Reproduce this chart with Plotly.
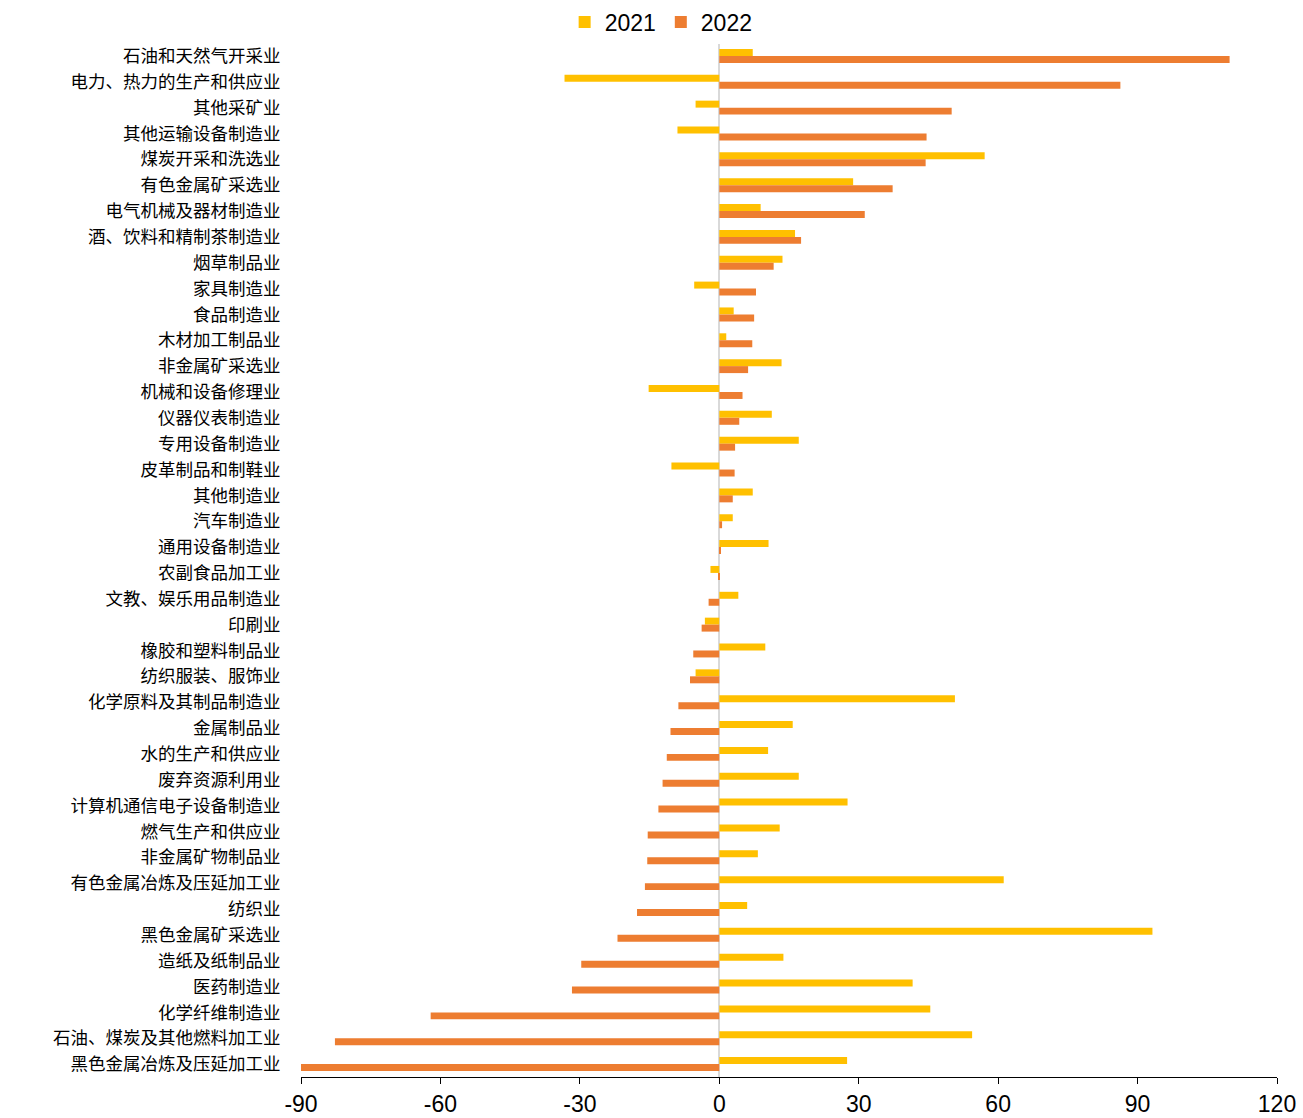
import plotly.graph_objects as go

# Industries, listed top to bottom
industries = [
    "石油和天然气开采业", "电力、热力的生产和供应业", "其他采矿业", "其他运输设备制造业",
    "煤炭开采和洗选业", "有色金属矿采选业", "电气机械及器材制造业", "酒、饮料和精制茶制造业",
    "烟草制品业", "家具制造业", "食品制造业", "木材加工制品业", "非金属矿采选业",
    "机械和设备修理业", "仪器仪表制造业", "专用设备制造业", "皮革制品和制鞋业",
    "其他制造业", "汽车制造业", "通用设备制造业", "农副食品加工业", "文教、娱乐用品制造业",
    "印刷业", "橡胶和塑料制品业", "纺织服装、服饰业", "化学原料及其制品制造业",
    "金属制品业", "水的生产和供应业", "废弃资源利用业", "计算机通信电子设备制造业",
    "燃气生产和供应业", "非金属矿物制品业", "有色金属冶炼及压延加工业", "纺织业",
    "黑色金属矿采选业", "造纸及纸制品业", "医药制造业", "化学纤维制造业",
    "石油、煤炭及其他燃料加工业", "黑色金属冶炼及压延加工业",
]

values_2021 = [
    7.2, -33.3, -5.1, -9.0, 57.1, 28.8, 8.9, 16.3, 13.6, -5.4,
    3.1, 1.5, 13.4, -15.2, 11.3, 17.1, -10.3, 7.2, 2.9, 10.6,
    -1.9, 4.1, -3.1, 9.9, -5.1, 50.7, 15.8, 10.5, 17.1, 27.6,
    13.0, 8.3, 61.2, 6.0, 93.2, 13.8, 41.6, 45.4, 54.4, 27.5,
]

values_2022 = [
    109.8, 86.3, 50.0, 44.6, 44.4, 37.3, 31.3, 17.6, 11.7, 7.9,
    7.5, 7.1, 6.2, 5.0, 4.3, 3.4, 3.3, 2.9, 0.6, 0.3,
    -0.2, -2.3, -3.8, -5.6, -6.3, -8.8, -10.5, -11.3, -12.2, -13.1,
    -15.4, -15.5, -16.0, -17.7, -21.9, -29.7, -31.7, -62.1, -82.7, -90.0,
]

x_ticks = [-90, -60, -30, 0, 30, 60, 90, 120]

num_font = "Arial, Liberation Sans, sans-serif"
cjk_font = "Noto Sans CJK SC, sans-serif"

fig = go.Figure()
fig.add_trace(go.Bar(
    name="2021", y=industries, x=values_2021, orientation="h",
    marker=dict(color="#FFC000", line=dict(width=0)),
))
fig.add_trace(go.Bar(
    name="2022", y=industries, x=values_2022, orientation="h",
    marker=dict(color="#ED7D31", line=dict(width=0)),
))

fig.update_layout(
    width=1303, height=1118,
    margin=dict(l=301, r=26, t=43, b=41, autoexpand=False),
    paper_bgcolor="white", plot_bgcolor="white",
    barmode="group", bargap=0.46, bargroupgap=0,
    legend=dict(
        orientation="h", x=0.369, xanchor="center", y=1.0203, yanchor="middle",
        font=dict(family=num_font, size=23, color="#000"),
        itemwidth=30, traceorder="normal",
    ),
    xaxis=dict(
        range=[-90, 120], tickvals=x_ticks, ticktext=[str(v) for v in x_ticks],
        showgrid=False, zeroline=True, zerolinecolor="#D9D9D9", zerolinewidth=2,
        showline=True, linecolor="#000", linewidth=1, automargin=False,
        ticks="outside", ticklen=6, tickcolor="#000", tickwidth=1,
        tickfont=dict(family=num_font, size=23, color="#000"),
    ),
    yaxis=dict(
        autorange="reversed", showgrid=False, zeroline=False, showline=False,
        automargin=False,
        ticks="outside", ticklen=16, tickcolor="rgba(0,0,0,0)",
        tickfont=dict(family=cjk_font, size=17.5, color="#000"),
    ),
)

fig.write_html("out.html")
